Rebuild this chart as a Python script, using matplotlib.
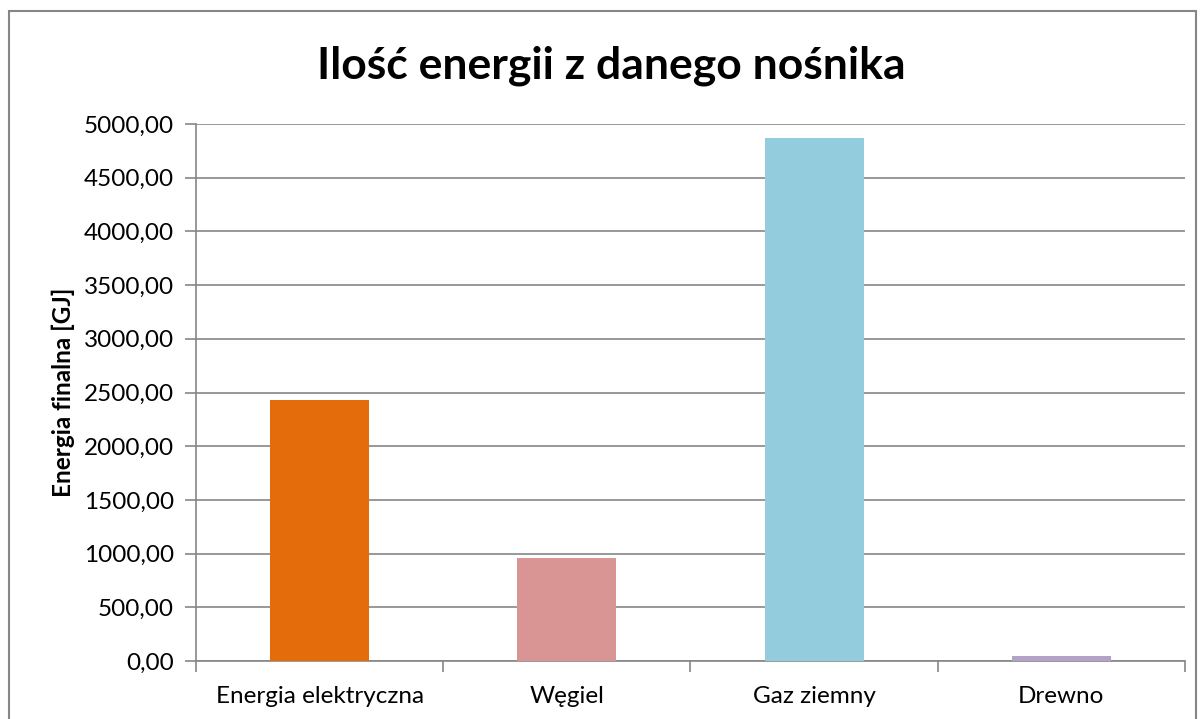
import matplotlib
matplotlib.use('Agg')
import matplotlib.pyplot as plt
from matplotlib.patches import Rectangle
from matplotlib.ticker import FuncFormatter, FixedLocator
import numpy as np

plt.rcParams['font.family'] = ['Lato', 'DejaVu Sans']

# data
categories = ['Energia elektryczna', 'Węgiel', 'Gaz ziemny', 'Drewno']
values = [2430, 960, 4870, 48]
colors = ['#E46C0A', '#D99594', '#93CDDD', '#B3A2C7']

fig = plt.figure(figsize=(12.04, 7.19), dpi=100)
ax = fig.add_axes([0.1628, 0.0807, 0.8214, 0.7468])

x = np.arange(len(categories))
ax.bar(x, values, width=0.4, color=colors, zorder=3)

ax.set_xlim(-0.5, len(categories) - 0.5)
ax.set_ylim(0, 5000)
ax.set_yticks(np.arange(0, 5001, 500))
ax.yaxis.set_major_formatter(FuncFormatter(lambda v, p: f'{v:.2f}'.replace('.', ',')))

# category boundaries as ticks, labels in the middle
ax.xaxis.set_major_locator(FixedLocator(np.arange(-0.5, len(categories), 1.0)))
ax.xaxis.set_minor_locator(FixedLocator(x))
ax.set_xticklabels([])
ax.set_xticklabels(categories, minor=True)
ax.tick_params(axis='x', which='minor', length=0, pad=18, labelsize=17.5)
ax.tick_params(axis='x', which='major', length=8, color='#868686', width=1.2)
ax.tick_params(axis='y', length=8, color='#868686', width=1.2, labelsize=17.5, pad=8)

ax.grid(axis='y', color='#868686', linewidth=1.2, zorder=0)
for s in ['top', 'right']:
    ax.spines[s].set_visible(False)
for s in ['left', 'bottom']:
    ax.spines[s].set_color('#868686')
    ax.spines[s].set_linewidth(1.2)

ax.set_ylabel('Energia finalna [GJ]', fontsize=17.5, fontweight='bold', labelpad=6)
fig.text(0.508, 0.908, 'Ilość energii z danego nośnika', fontsize=32,
         fontweight='bold', ha='center', va='center')

# chart area border
fig.patches.append(Rectangle((0.0075, -0.02), 0.986, 1.0047, transform=fig.transFigure,
                             fill=False, edgecolor='#868686', linewidth=1.5))

fig.savefig('out.png', dpi=100)
